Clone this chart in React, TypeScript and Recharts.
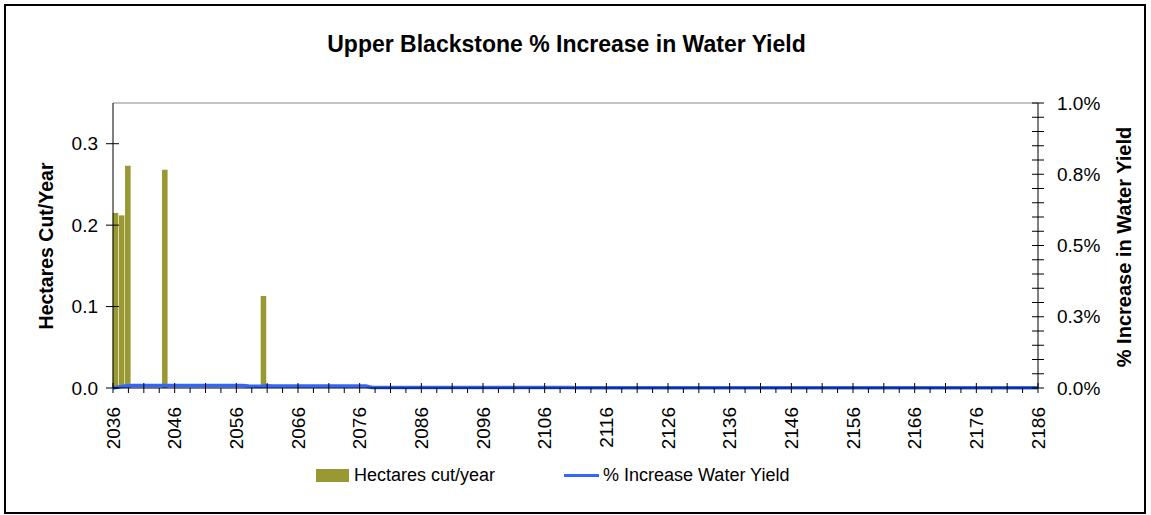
import React from "react";
import {
  ComposedChart,
  Bar,
  Line,
  XAxis,
  YAxis,
  ReferenceLine,
  Legend,
} from "recharts";

// years on the x axis
const years = Array.from({ length: 151 }, (_, i) => 2036 + i);

// hectares cut/year (only years with a cut)
const cutYears = [2036, 2037, 2038, 2044, 2060];
const cutHectares = [0.215, 0.212, 0.273, 0.268, 0.113];

// % increase in water yield, one per year 2036..2186
const yieldIncrease = [
  0, 0.004, 0.007, 0.009, 0.009, 0.009, 0.009, 0.009, 0.009, 0.009,
  0.009, 0.009, 0.009, 0.009, 0.009, 0.009, 0.009, 0.009, 0.009, 0.009,
  0.009, 0.009, 0.007, 0.006, 0.006, 0.008, 0.007, 0.007, 0.007, 0.007,
  0.007, 0.007, 0.007, 0.007, 0.007, 0.007, 0.007, 0.007, 0.007, 0.007,
  0.007, 0.007, 0.002, 0.002, 0.002, 0.002, 0.002, 0.002, 0.002, 0.002,
  0.002, 0.002, 0.002, 0.002, 0.002, 0.002, 0.002, 0.002, 0.002, 0.002,
  0.002, 0.002, 0.002, 0.002, 0.002, 0.002, 0.002, 0.002, 0.002, 0.002,
  0.002, 0.002, 0.002, 0.002, 0.002, 0.001, 0.001, 0.001, 0.001, 0.001,
  0.001, 0.001, 0.001, 0.001, 0.001, 0.001, 0.001, 0.001, 0.001, 0.001,
  0.001, 0.001, 0.001, 0.001, 0.001, 0.001, 0.001, 0.001, 0.001, 0.001,
  0.001, 0.001, 0.001, 0.001, 0.001, 0.001, 0.001, 0.001, 0.001, 0.001,
  0.001, 0.001, 0.001, 0.001, 0.001, 0.001, 0.001, 0.001, 0.001, 0.001,
  0.001, 0.001, 0.001, 0.001, 0.001, 0.001, 0.001, 0.001, 0.001, 0.001,
  0.001, 0.001, 0.001, 0.001, 0.001, 0.001, 0.001, 0.001, 0.001, 0.001,
  0.001, 0.001, 0.001, 0.001, 0.001, 0.001, 0.001, 0.001, 0.001, 0.001,
  0.001,
];

const xTicks = Array.from({ length: 61 }, (_, i) => 2036 + i * 2.5);
const haTicks = [0, 0.1, 0.2, 0.3];
const pctTicks = Array.from({ length: 21 }, (_, i) => i / 20);

const data = years.map((year, i) => {
  const k = cutYears.indexOf(year);
  return {
    year,
    hectares: k >= 0 ? cutHectares[k] : 0,
    pct: yieldIncrease[i],
  };
});

const W = 1151;
const H = 515;
const LEFT = 113;
const RIGHT = 1038;
const TOP = 103;
const BOTTOM = 388;
const FONT = "'Liberation Sans', Arial, sans-serif";
const OLIVE = "#999933";
const BLUE = "#3366FF";

function XTick({ x, payload }: any) {
  const v = payload.value;
  const major = (v - 2036) % 5 === 0;
  const label = (v - 2036) % 10 === 0;
  const ty = BOTTOM + 19;
  return (
    <g>
      <line x1={x} x2={x} y1={major ? BOTTOM - 5 : BOTTOM} y2={BOTTOM + 5} stroke="#000" />
      {label && (
        <text
          x={x}
          y={ty}
          dy="0.35em"
          transform={`rotate(-90 ${x} ${ty})`}
          textAnchor="end"
          fontSize={19}
          fontFamily={FONT}
          fill="#000"
        >
          {v}
        </text>
      )}
    </g>
  );
}

function HaTick({ y, payload }: any) {
  return (
    <g>
      <line x1={LEFT - 7} x2={LEFT + 6} y1={y} y2={y} stroke="#000" />
      <text x={LEFT - 15} y={y} dy="0.35em" textAnchor="end" fontSize={19} fontFamily={FONT} fill="#000">
        {payload.value.toFixed(1)}
      </text>
    </g>
  );
}

function PctTick({ y, payload, index }: any) {
  return (
    <g>
      <line x1={RIGHT - 6} x2={RIGHT + 6} y1={y} y2={y} stroke="#000" />
      {index % 5 === 0 && (
        <text x={RIGHT + 19} y={y} dy="0.35em" textAnchor="start" fontSize={19} fontFamily={FONT} fill="#000">
          {payload.value.toFixed(1) + "%"}
        </text>
      )}
    </g>
  );
}

function CutBar(props: any) {
  const { x, y, width, height, fill } = props;
  if (!height || height <= 0) return null;
  // bar sits in the year's slot to the right of its tick
  return <rect x={x + width / 2} y={y} width={width} height={height} fill={fill} />;
}

function LegendBox() {
  const text = { fontSize: 18, fontFamily: FONT, color: "#000", whiteSpace: "nowrap" as const };
  return (
    <div style={{ position: "relative", height: 24 }}>
      <div style={{ position: "absolute", left: 0, top: 0, height: 24, display: "flex", alignItems: "center" }}>
        <div style={{ width: 33, height: 13, background: OLIVE, marginRight: 5 }} />
        <span style={text}>Hectares cut/year</span>
      </div>
      <div style={{ position: "absolute", left: 248, top: 0, height: 24, display: "flex", alignItems: "center" }}>
        <div style={{ width: 35, height: 3, background: BLUE, marginRight: 4 }} />
        <span style={text}>% Increase Water Yield</span>
      </div>
    </div>
  );
}

export default function App() {
  return (
    <div style={{ position: "absolute", left: 0, top: 0, width: W, height: H, background: "#fff", fontFamily: FONT }}>
      <div
        style={{
          position: "absolute",
          left: 4,
          top: 4,
          width: 1142,
          height: 510,
          border: "2px solid #000",
          boxSizing: "border-box",
        }}
      />
      <div
        style={{
          position: "absolute",
          left: 0,
          top: 33,
          width: 1133,
          textAlign: "center",
          fontSize: 23,
          lineHeight: "23px",
          fontWeight: "bold",
          color: "#000",
        }}
      >
        Upper Blackstone % Increase in Water Yield
      </div>
      <div style={{ position: "absolute", left: 0, top: 0 }}>
        <ComposedChart
          width={W}
          height={H}
          data={data}
          margin={{ top: TOP, left: LEFT - 60, right: W - RIGHT - 80, bottom: H - BOTTOM - 70 }}
        >
          <XAxis
            dataKey="year"
            type="number"
            domain={[2036, 2186]}
            ticks={xTicks}
            interval={0}
            height={70}
            tickLine={false}
            axisLine={{ stroke: "#000" }}
            tick={<XTick />}
          />
          <YAxis
            yAxisId="ha"
            domain={[0, 0.35]}
            ticks={haTicks}
            interval={0}
            width={60}
            tickLine={false}
            axisLine={{ stroke: "#000" }}
            tick={<HaTick />}
            label={{
              content: () => (
                <text
                  x={45.5}
                  y={246}
                  transform="rotate(-90 45.5 246)"
                  textAnchor="middle"
                  dominantBaseline="central"
                  fontSize={19.5}
                  fontWeight="bold"
                  fontFamily={FONT}
                  fill="#000"
                >
                  Hectares Cut/Year
                </text>
              ),
            }}
          />
          <YAxis
            yAxisId="pct"
            orientation="right"
            domain={[0, 1]}
            ticks={pctTicks}
            interval={0}
            width={80}
            tickLine={false}
            axisLine={{ stroke: "#000" }}
            tick={<PctTick />}
            label={{
              content: () => (
                <text
                  x={1123.5}
                  y={247}
                  transform="rotate(-90 1123.5 247)"
                  textAnchor="middle"
                  dominantBaseline="central"
                  fontSize={20}
                  fontWeight="bold"
                  fontFamily={FONT}
                  fill="#000"
                >
                  % Increase in Water Yield
                </text>
              ),
            }}
          />
          <ReferenceLine y={0.35} yAxisId="ha" stroke="#888" />
          <Bar
            yAxisId="ha"
            dataKey="hectares"
            name="Hectares cut/year"
            fill={OLIVE}
            barSize={6.2}
            shape={<CutBar />}
            isAnimationActive={false}
          />
          <Line
            yAxisId="pct"
            dataKey="pct"
            name="% Increase Water Yield"
            type="linear"
            stroke={BLUE}
            strokeWidth={3.5}
            dot={false}
            isAnimationActive={false}
          />
          <Legend
            layout="vertical"
            align="center"
            verticalAlign="middle"
            wrapperStyle={{ left: 316, top: 463, width: 620, height: 24 }}
            content={() => <LegendBox />}
          />
        </ComposedChart>
      </div>
    </div>
  );
}
